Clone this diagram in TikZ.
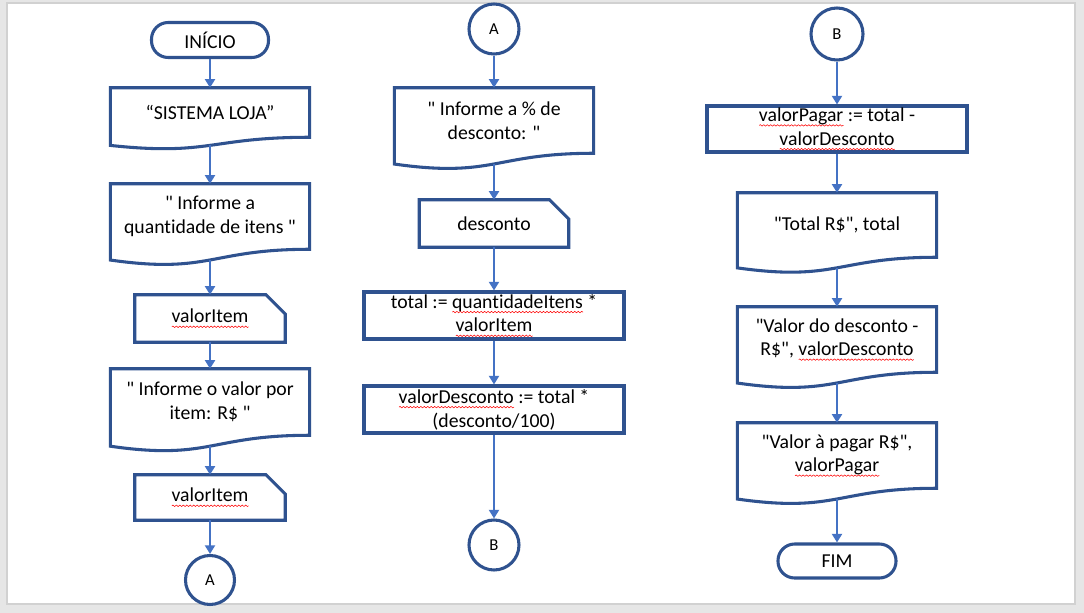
\documentclass[tikz,border=0pt]{standalone}
\usepackage{fontspec}
\setmainfont{Carlito}[Ligatures={TeXOff,NoCommon}]
\usetikzlibrary{arrows.meta,calc,decorations.pathmorphing}
\definecolor{outl}{HTML}{2F528F}
\definecolor{arr}{HTML}{4472C4}
\definecolor{bgc}{HTML}{E6E6E6}
\newlength\splen
\newcommand\spell[1]{\settowidth{\splen}{#1}\rlap{\tikz[baseline=0pt]\draw[red,line width=0.4pt,decorate,decoration={snake,amplitude=0.55pt,segment length=2.6pt}] (0pt,-2.9pt) -- (\splen,-2.9pt);}#1}
\newcommand\docshape[1]{%
  \draw[outline] (#1.north west) -- (#1.north east) -- (#1.south east)
    .. controls (#1.south) and ($(#1.north)!1.381!(#1.south)$) .. ($(#1.north west)!1.1646!(#1.south west)$) -- cycle;
  \coordinate (#1-b) at ($(#1.north)!1.163!(#1.south)$);}
\newcommand\snipshape[1]{%
  \draw[outline] (#1.north west) -- ([xshift=-14.5pt]#1.north east) -- ([yshift=-14.5pt]#1.north east) -- (#1.south east) -- (#1.south west) -- cycle;}
\tikzset{
  outline/.style={draw=outl, line width=2.3pt, line join=miter},
  txt/.style={font=\fontsize{14.8}{17.8}\selectfont, align=center, inner sep=0pt, text=black},
  term/.style={txt, outline, rounded corners=12.5pt},
  proc/.style={txt, outline, minimum width=195pt},
  docbox/.style={txt, minimum width=149pt},
  snipbox/.style={txt},
  conn/.style={circle, outline, inner sep=0pt, font=\fontsize{12.5}{14}\selectfont, text=black},
  flow/.style={draw=arr, line width=2.1pt, -{Triangle[width=7.5pt,length=6.5pt]}},
}
\begin{document}
\begin{tikzpicture}[x=0.75pt,y=-0.75pt]
\fill[bgc] (0,0) rectangle (1084,613);
\draw[black!18, fill=white, line width=0.8pt] (7,3) rectangle (1075,604);
\useasboundingbox (0,0) rectangle (1084,613);

% column 1
\node[term, minimum width=87.75pt, minimum height=26.25pt] (start) at (210,40) {INÍCIO};
\node[docbox, minimum height=36.75pt] (sis) at (210,112.5) {“SISTEMA LOJA”};
\docshape{sis}
\node[docbox, minimum height=48.75pt] (qtd) at (210,216.5) {" Informe a\\quantidade de itens "};
\docshape{qtd}
\node[snipbox, minimum width=112.5pt, minimum height=35.25pt] (vi1) at (210,318.5) {\spell{valorItem}};
\snipshape{vi1}
\node[docbox, minimum height=49.5pt] (ivp) at (210,402) {" Informe o valor por\\item: R\$ "};
\docshape{ivp}
\node[snipbox, minimum width=112.5pt, minimum height=33.75pt] (vi2) at (210,497.5) {\spell{valorItem}};
\snipshape{vi2}
\node[conn, minimum size=36.75pt] (ca1) at (210,580) {A};

\draw[flow] (start) -- (sis);
\draw[flow] (sis-b) -- (qtd);
\draw[flow] (qtd-b) -- (vi1);
\draw[flow] (vi1) -- (ivp);
\draw[flow] (ivp-b) -- (vi2);
\draw[flow] (vi2) -- (ca1);

% column 2
\node[conn, minimum size=37.5pt] (ca2) at (494,29) {A};
\node[docbox, minimum height=48.75pt] (pct) at (494,120.5) {" Informe a \% de\\desconto: "};
\docshape{pct}
\node[snipbox, minimum width=111.75pt, minimum height=35.25pt] (desc) at (494,223.5) {desconto};
\snipshape{desc}
\node[proc, minimum height=35.25pt] (tot) at (494,315.5) {total := \spell{quantidadeItens} *\\\spell{valorItem}};
\node[proc, minimum height=35.25pt] (vd) at (494,409.5) {\spell{valorDesconto} := total *\\(desconto/100)};
\node[conn, minimum size=37.5pt] (cb1) at (494,545) {B};

\draw[flow] (ca2) -- (pct);
\draw[flow] (pct-b) -- (desc);
\draw[flow] (desc) -- (tot);
\draw[flow] (tot) -- (vd);
\draw[flow] (vd) -- (cb1);

% column 3
\node[conn, minimum size=39pt] (cb2) at (837,34) {B};
\node[proc, minimum height=34.5pt] (vp) at (837,129) {\spell{valorPagar} := total -\\\spell{valorDesconto}};
\node[docbox, minimum height=48pt] (tr) at (837,225) {"Total R\$", total};
\docshape{tr}
\node[docbox, minimum height=48.75pt] (vdd) at (837,339.5) {"Valor do desconto -\\R\$", \spell{valorDesconto}};
\docshape{vdd}
\node[docbox, minimum height=48.75pt] (vap) at (837,455.5) {"Valor à pagar R\$",\\\spell{valorPagar}};
\docshape{vap}
\node[term, minimum width=88.5pt, minimum height=25.5pt] (fim) at (837,561) {FIM};

\draw[flow] (cb2) -- (vp);
\draw[flow] (vp) -- (tr);
\draw[flow] (tr-b) -- (vdd);
\draw[flow] (vdd-b) -- (vap);
\draw[flow] (vap-b) -- (fim);
\end{tikzpicture}
\end{document}
